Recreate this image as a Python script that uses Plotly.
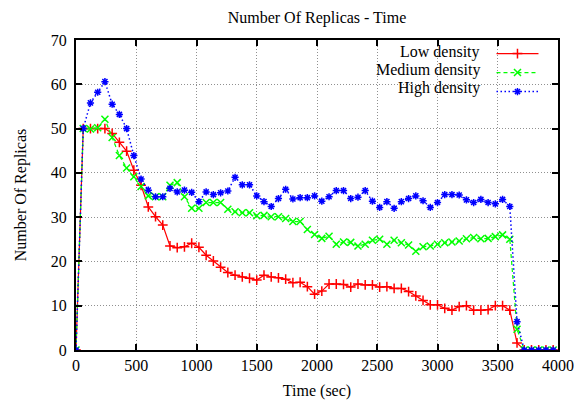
import plotly.graph_objects as go

time_sec = [0, 60, 120, 180, 240, 300, 360, 420, 480, 540, 600, 660, 720, 780, 840, 900,
            960, 1020, 1080, 1140, 1200, 1260, 1320, 1380, 1440, 1500, 1560, 1620, 1680,
            1740, 1800, 1860, 1920, 1980, 2040, 2100, 2160, 2220, 2280, 2340, 2400, 2460,
            2520, 2580, 2640, 2700, 2760, 2820, 2880, 2940, 3000, 3060, 3120, 3180, 3240,
            3300, 3360, 3420, 3480, 3540, 3600, 3660, 3720, 3780, 3840, 3900, 3960]

low_density = [0, 50, 50, 50, 50, 48.9, 46.9, 44.9, 40.6, 37.2, 32.3, 30.1, 28.2, 23.5,
               23.1, 23.3, 24.1, 23.2, 21.4, 20.1, 18.7, 17.5, 16.9, 16.5, 16.2, 15.8, 16.9,
               16.5, 16.3, 16.0, 15.2, 15.3, 14.3, 12.6, 13.3, 14.9, 14.9, 14.8, 14.2, 14.9,
               14.7, 14.7, 14.2, 14.3, 13.9, 13.9, 13.2, 12.2, 11.2, 10.2, 10.2, 9.4, 9.0,
               9.8, 10.0, 9.0, 9.0, 9.1, 10.0, 10.0, 9.0, 1.6, 0, 0, 0, 0, 0]

medium_density = [0, 50, 49.9, 50.2, 52.1, 48, 43.9, 41.1, 39.1, 36.9, 34.8, 34.6, 34.6,
                  37.2, 37.8, 34.6, 32, 32, 33.3, 33.3, 33.3, 31.8, 31.2, 31.0, 31.0, 30.3,
                  30.4, 30.1, 30.1, 29.7, 29.0, 29.0, 27.2, 26.1, 25.2, 25.7, 23.9, 24.4,
                  24.3, 23.5, 23.9, 24.8, 25.0, 23.9, 24.8, 24.2, 23.7, 22.3, 23.3, 23.5,
                  23.9, 24.2, 24.4, 24.6, 25.1, 25.4, 25.1, 25.2, 25.6, 26.0, 25.0, 4.7,
                  0, 0, 0, 0, 0]

high_density = [0, 50, 55.8, 58.2, 60.6, 55.5, 53.2, 50, 43.9, 38.6, 36.1, 34.6, 34.6,
                36.5, 35.7, 36.1, 35.6, 33.5, 35.7, 35.1, 35.5, 35.9, 39.0, 37.3, 37.3,
                34.8, 33.5, 32.4, 34.2, 36.3, 34.1, 34.4, 34.4, 34.8, 33.6, 34.6, 36.0,
                36.0, 34.2, 34.5, 36.0, 33.6, 32.2, 33.5, 32.0, 33.5, 34.2, 34.8, 33.7,
                32.2, 33.3, 35.1, 35.1, 35.0, 33.9, 33.3, 34.0, 33.3, 33.0, 34.0, 32.4,
                6.4, 0, 0, 0, 0, 0]

series_names = ["Low density", "Medium density", "High density"]
x_ticks = [0, 500, 1000, 1500, 2000, 2500, 3000, 3500, 4000]
y_ticks = [0, 10, 20, 30, 40, 50, 60, 70]

FONT = "Liberation Serif, Times New Roman, serif"

fig = go.Figure()
styles = [
    dict(color="#ff0000", dash="solid", width=1.2, symbol="cross-thin-open", size=7),
    dict(color="#00ff00", dash="4px,3px", width=1.2, symbol="x-thin-open", size=7),
    dict(color="#0000ff", dash="1.5px,2.5px", width=1.5, symbol="asterisk-open", size=6),
]
for vals, st in zip([low_density, medium_density, high_density], styles):
    fig.add_trace(go.Scatter(
        x=time_sec, y=vals, mode="lines+markers", name=" ",
        line=dict(color=st["color"], dash=st["dash"], width=st["width"]),
        marker=dict(symbol=st["symbol"], size=st["size"],
                    line=dict(color=st["color"], width=1.5), color=st["color"]),
    ))

# white key background hiding grid (gnuplot style)
fig.add_shape(type="rect", xref="paper", yref="paper", x0=0.566, x1=0.998,
              y0=0.816, y1=0.996, fillcolor="white", line=dict(width=0), layer="between")

ann_y = [0.961, 0.903, 0.845]
for name, yy in zip(series_names, ann_y):
    fig.add_annotation(text=name, xref="paper", yref="paper", x=0.8423, y=yy,
                       xanchor="right", yanchor="middle", showarrow=False,
                       font=dict(family=FONT, size=16, color="black"))

axis_common = dict(
    showline=True, linecolor="black", linewidth=2, mirror="ticks",
    ticks="inside", ticklen=6, tickwidth=2, tickcolor="black",
    showgrid=True, gridcolor="#909090", gridwidth=1, griddash="1px,2px",
    zeroline=False, tickfont=dict(family=FONT, size=16, color="black"),
    automargin=False,
)

fig.update_layout(
    width=574, height=400,
    margin=dict(l=76, r=16, t=40, b=50),
    paper_bgcolor="white", plot_bgcolor="white",
    title=dict(text="Number Of Replicas - Time", x=0.5, xref="paper", xanchor="center",
               y=1 - 17 / 400, yref="container", yanchor="middle",
               font=dict(family=FONT, size=16, color="black")),
    xaxis=dict(range=[0, 4000], tickvals=x_ticks,
               title=dict(text="Time (sec)", font=dict(family=FONT, size=16, color="black"),
                          standoff=12),
               **axis_common),
    yaxis=dict(range=[0, 70], tickvals=y_ticks, ticklabelstandoff=4,
               title=dict(text="Number Of Replicas", font=dict(family=FONT, size=16, color="black"),
                          standoff=20),
               **axis_common),
    showlegend=True,
    legend=dict(x=0.862, y=1.003, xanchor="left", yanchor="top", bgcolor="rgba(0,0,0,0)",
                font=dict(family=FONT, size=12), itemwidth=42, borderwidth=0,
                tracegroupgap=0),
)

fig.write_html("out.html")
